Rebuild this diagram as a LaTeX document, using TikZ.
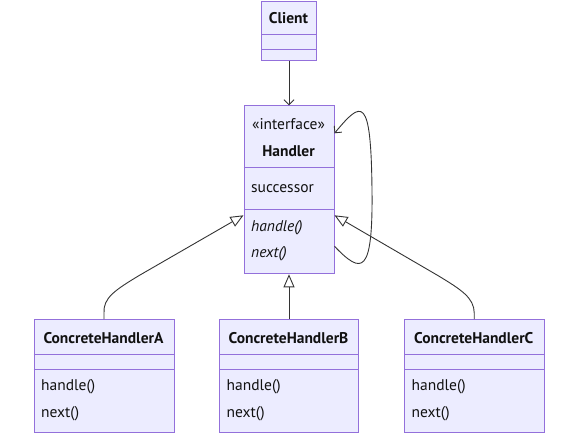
\documentclass[tikz,border=0pt]{standalone}
\usepackage{fontspec}
\setmainfont{PT Sans}
\usetikzlibrary{arrows.meta,calc}
\definecolor{boxfill}{HTML}{ECECFF}
\definecolor{boxline}{HTML}{9370DB}
\definecolor{edge}{HTML}{333333}
\definecolor{txt}{HTML}{111111}
\tikzset{
  cls/.style={draw=boxline, fill=boxfill, line width=1pt, rectangle, inner sep=0pt, anchor=north west},
  divider/.style={draw=boxline, line width=1pt},
  lbl/.style={text=txt, font=\fontsize{15.5}{17}\selectfont, inner sep=0pt},
  lblb/.style={lbl, font=\fontsize{15.5}{17}\selectfont\bfseries},
  lbll/.style={lbl, anchor=west},
  lbli/.style={lbll, font=\fontsize{15.5}{17}\selectfont\itshape},
  dep/.style={draw=edge, line width=0.9pt, -{Straight Barb[length=5pt,width=10pt]}},
  inh/.style={draw=edge, line width=0.9pt, -{Triangle[open,length=13pt,width=11pt,fill=white]}},
}
\begin{document}
\begin{tikzpicture}[x=1pt,y=-1pt]
\useasboundingbox (0,0) rectangle (571,439);
% Client
\node[cls, minimum width=55, minimum height=59] (client) at (261,0.5) {};
\draw[divider] (261,34.3) -- (316,34.3);
\draw[divider] (261,49.3) -- (316,49.3);
\node[lblb] (clientname) at (288.5,18) {Client};
% Handler
\node[cls, minimum width=90, minimum height=168] (handler) at (243.5,105.3) {};
\draw[divider] (243.5,167.3) -- (333.5,167.3);
\draw[divider] (243.5,209.3) -- (333.5,209.3);
\node[lbl] (stereo) at (288.5,124) {«interface»};
\node[lblb] (hname) at (288.5,151) {Handler};
\node[lbll] (succ) at (251,189) {successor};
\node[lbli] (hhandle) at (251,228) {handle()};
\node[lbli] (hnext) at (251,254) {next()};
% Concrete A
\node[cls, minimum width=140, minimum height=113] (ca) at (33.5,319) {};
\draw[divider] (33.5,354.3) -- (173.5,354.3);
\draw[divider] (33.5,369) -- (173.5,369);
\node[lblb] (caname) at (103.5,338) {ConcreteHandlerA};
\node[lbll] (cah) at (41,387) {handle()};
\node[lbll] (can) at (41,414) {next()};
% Concrete B
\node[cls, minimum width=139, minimum height=113] (cb) at (219,319) {};
\draw[divider] (219,354.3) -- (358,354.3);
\draw[divider] (219,369) -- (358,369);
\node[lblb] (cbname) at (288.5,338) {ConcreteHandlerB};
\node[lbll] (cbh) at (226.5,387) {handle()};
\node[lbll] (cbn) at (226.5,414) {next()};
% Concrete C
\node[cls, minimum width=139.5, minimum height=113] (cc) at (404,319) {};
\draw[divider] (404,354.3) -- (543.5,354.3);
\draw[divider] (404,369) -- (543.5,369);
\node[lblb] (ccname) at (473.75,338) {ConcreteHandlerC};
\node[lbll] (cch) at (411.5,387) {handle()};
\node[lbll] (ccn) at (411.5,414) {next()};
% edges
\draw[dep] (client.south) -- (handler.north);
\draw[dep] ($(handler.south east)+(0,-28)$) .. controls (362,275) and (373,275) .. (372,190) .. controls (371,95) and (362,100) .. ($(handler.north east)+(0,28)$);
\draw[inh] (ca.north) -- ++(0,-6) .. controls (103,298) and (115,290) .. (140,275) -- ($(handler.north west)+(0,110)$);
\draw[inh] (cb.north) -- (handler.south);
\draw[inh] (cc.north) -- ++(0,-6) .. controls (474,298) and (462,290) .. (437,275) -- ($(handler.north east)+(0,110)$);
\end{tikzpicture}
\end{document}
